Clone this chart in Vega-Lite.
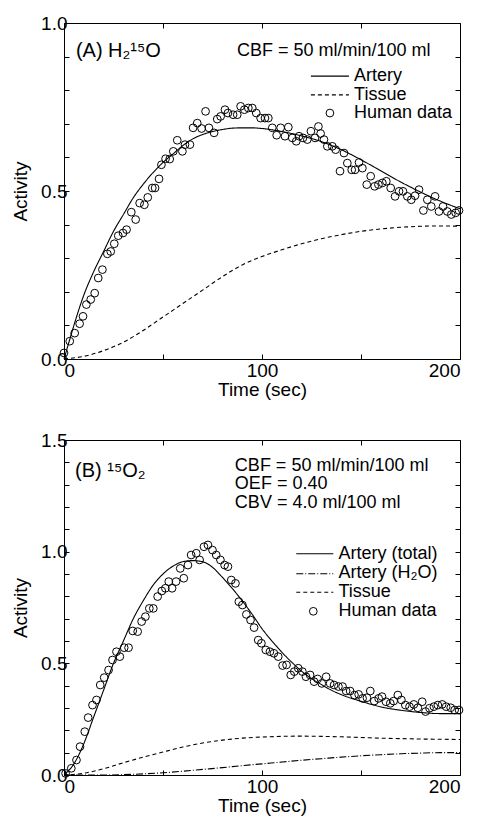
{
  "$schema": "https://vega.github.io/schema/vega-lite/v6.json",
  "background": "white",
  "padding": {"left": 11, "top": 13, "right": 5, "bottom": 0},
  "spacing": 30,
  "config": {
    "font": "Liberation Sans",
    "view": {"stroke": "black", "strokeWidth": 1},
    "axis": {
      "grid": false, "domain": false,
      "tickColor": "black", "tickSize": -5, "tickWidth": 1,
      "labelColor": "black", "titleColor": "black",
      "labelFont": "Liberation Sans", "titleFont": "Liberation Sans",
      "labelFontSize": 19, "titleFontSize": 19, "titleFontWeight": "normal"
    },
    "axisBottom": {"labelPadding": 7, "titlePadding": 0},
    "axisLeft": {"labelPadding": 2, "titlePadding": 10}
  },
  "datasets": {
    "a_model": [
      {"t":0,"v":0,"series":"Artery"},{"t":2,"v":0.04,"series":"Artery"},{"t":5,"v":0.1,"series":"Artery"},{"t":10,"v":0.19,"series":"Artery"},{"t":15,"v":0.26,"series":"Artery"},{"t":20,"v":0.32,"series":"Artery"},{"t":25,"v":0.38,"series":"Artery"},{"t":30,"v":0.43,"series":"Artery"},{"t":35,"v":0.48,"series":"Artery"},{"t":40,"v":0.52,"series":"Artery"},{"t":45,"v":0.555,"series":"Artery"},{"t":50,"v":0.585,"series":"Artery"},{"t":55,"v":0.61,"series":"Artery"},{"t":60,"v":0.635,"series":"Artery"},{"t":65,"v":0.655,"series":"Artery"},{"t":70,"v":0.668,"series":"Artery"},{"t":75,"v":0.677,"series":"Artery"},{"t":80,"v":0.683,"series":"Artery"},{"t":85,"v":0.687,"series":"Artery"},{"t":90,"v":0.688,"series":"Artery"},{"t":95,"v":0.688,"series":"Artery"},{"t":100,"v":0.686,"series":"Artery"},{"t":110,"v":0.677,"series":"Artery"},{"t":120,"v":0.664,"series":"Artery"},{"t":130,"v":0.647,"series":"Artery"},{"t":140,"v":0.623,"series":"Artery"},{"t":150,"v":0.593,"series":"Artery"},{"t":160,"v":0.56,"series":"Artery"},{"t":170,"v":0.527,"series":"Artery"},{"t":180,"v":0.497,"series":"Artery"},{"t":190,"v":0.47,"series":"Artery"},{"t":200,"v":0.447,"series":"Artery"},
      {"t":0,"v":0,"series":"Tissue"},{"t":10,"v":0.008,"series":"Tissue"},{"t":20,"v":0.025,"series":"Tissue"},{"t":30,"v":0.05,"series":"Tissue"},{"t":40,"v":0.085,"series":"Tissue"},{"t":50,"v":0.125,"series":"Tissue"},{"t":60,"v":0.165,"series":"Tissue"},{"t":70,"v":0.205,"series":"Tissue"},{"t":80,"v":0.245,"series":"Tissue"},{"t":90,"v":0.28,"series":"Tissue"},{"t":100,"v":0.305,"series":"Tissue"},{"t":110,"v":0.325,"series":"Tissue"},{"t":120,"v":0.343,"series":"Tissue"},{"t":130,"v":0.358,"series":"Tissue"},{"t":140,"v":0.37,"series":"Tissue"},{"t":150,"v":0.38,"series":"Tissue"},{"t":160,"v":0.387,"series":"Tissue"},{"t":170,"v":0.392,"series":"Tissue"},{"t":180,"v":0.395,"series":"Tissue"},{"t":190,"v":0.396,"series":"Tissue"},{"t":200,"v":0.395,"series":"Tissue"}
    ],
    "a_obs": [
      {"t":0,"v":0.018},{"t":2.9,"v":0.053},{"t":5.4,"v":0.077},{"t":7.9,"v":0.105},{"t":9.6,"v":0.127},{"t":11.3,"v":0.162},{"t":13.5,"v":0.177},{"t":15.5,"v":0.196},{"t":17.3,"v":0.241},{"t":19.4,"v":0.266},{"t":21.9,"v":0.313},{"t":23.6,"v":0.32},{"t":25.4,"v":0.343},{"t":27.4,"v":0.367},{"t":29.8,"v":0.375},{"t":31.6,"v":0.385},{"t":34,"v":0.437},{"t":36.2,"v":0.415},{"t":38.2,"v":0.464},{"t":40.6,"v":0.459},{"t":42.3,"v":0.481},{"t":44.6,"v":0.509},{"t":46,"v":0.509},{"t":48,"v":0.536},{"t":49.2,"v":0.578},{"t":51.3,"v":0.596},{"t":53.4,"v":0.595},{"t":55.2,"v":0.618},{"t":57.2,"v":0.651},{"t":59.8,"v":0.618},{"t":61.1,"v":0.638},{"t":63.6,"v":0.638},{"t":65.2,"v":0.688},{"t":67.3,"v":0.702},{"t":69.5,"v":0.686},{"t":71.5,"v":0.737},{"t":73.2,"v":0.688},{"t":75.8,"v":0.673},{"t":77.4,"v":0.714},{"t":79.1,"v":0.722},{"t":81.3,"v":0.742},{"t":82.8,"v":0.732},{"t":85.4,"v":0.727},{"t":87.5,"v":0.727},{"t":89.2,"v":0.752},{"t":91.1,"v":0.742},{"t":93.1,"v":0.747},{"t":95.1,"v":0.747},{"t":97.1,"v":0.732},{"t":99.3,"v":0.717},{"t":101.5,"v":0.717},{"t":103.2,"v":0.717},{"t":105.2,"v":0.688},{"t":107.4,"v":0.666},{"t":109.4,"v":0.688},{"t":111.6,"v":0.663},{"t":113.3,"v":0.69},{"t":115.3,"v":0.658},{"t":117.3,"v":0.648},{"t":118.7,"v":0.663},{"t":120.7,"v":0.658},{"t":122.9,"v":0.653},{"t":124.7,"v":0.678},{"t":126.8,"v":0.658},{"t":128.5,"v":0.692},{"t":129.6,"v":0.671},{"t":131.3,"v":0.653},{"t":133,"v":0.633},{"t":135.5,"v":0.633},{"t":137.2,"v":0.623},{"t":139.4,"v":0.559},{"t":141.4,"v":0.613},{"t":143.1,"v":0.583},{"t":145.3,"v":0.563},{"t":147,"v":0.563},{"t":149,"v":0.585},{"t":150.7,"v":0.568},{"t":152.9,"v":0.519},{"t":154.9,"v":0.544},{"t":156.9,"v":0.514},{"t":158.8,"v":0.519},{"t":160.8,"v":0.524},{"t":162.8,"v":0.529},{"t":165,"v":0.509},{"t":167.2,"v":0.484},{"t":169.2,"v":0.499},{"t":171.2,"v":0.499},{"t":173.4,"v":0.484},{"t":175.4,"v":0.474},{"t":177.3,"v":0.486},{"t":179.3,"v":0.504},{"t":181.5,"v":0.442},{"t":183.5,"v":0.474},{"t":185.5,"v":0.454},{"t":187.4,"v":0.484},{"t":189.4,"v":0.439},{"t":191.4,"v":0.454},{"t":193.6,"v":0.439},{"t":195.6,"v":0.43},{"t":197.8,"v":0.435},{"t":199.5,"v":0.442}
    ],
    "b_model": [
      {"t":0,"v":0,"series":"Artery (total)"},{"t":5,"v":0.05,"series":"Artery (total)"},{"t":10,"v":0.14,"series":"Artery (total)"},{"t":15,"v":0.26,"series":"Artery (total)"},{"t":20,"v":0.38,"series":"Artery (total)"},{"t":25,"v":0.5,"series":"Artery (total)"},{"t":30,"v":0.6,"series":"Artery (total)"},{"t":35,"v":0.7,"series":"Artery (total)"},{"t":40,"v":0.78,"series":"Artery (total)"},{"t":45,"v":0.85,"series":"Artery (total)"},{"t":50,"v":0.9,"series":"Artery (total)"},{"t":55,"v":0.935,"series":"Artery (total)"},{"t":60,"v":0.955,"series":"Artery (total)"},{"t":65,"v":0.96,"series":"Artery (total)"},{"t":70,"v":0.955,"series":"Artery (total)"},{"t":75,"v":0.93,"series":"Artery (total)"},{"t":80,"v":0.885,"series":"Artery (total)"},{"t":85,"v":0.835,"series":"Artery (total)"},{"t":90,"v":0.78,"series":"Artery (total)"},{"t":95,"v":0.72,"series":"Artery (total)"},{"t":100,"v":0.655,"series":"Artery (total)"},{"t":105,"v":0.6,"series":"Artery (total)"},{"t":110,"v":0.55,"series":"Artery (total)"},{"t":115,"v":0.505,"series":"Artery (total)"},{"t":120,"v":0.465,"series":"Artery (total)"},{"t":125,"v":0.432,"series":"Artery (total)"},{"t":130,"v":0.405,"series":"Artery (total)"},{"t":135,"v":0.38,"series":"Artery (total)"},{"t":140,"v":0.36,"series":"Artery (total)"},{"t":150,"v":0.33,"series":"Artery (total)"},{"t":160,"v":0.305,"series":"Artery (total)"},{"t":170,"v":0.29,"series":"Artery (total)"},{"t":180,"v":0.28,"series":"Artery (total)"},{"t":190,"v":0.275,"series":"Artery (total)"},{"t":200,"v":0.275,"series":"Artery (total)"},
      {"t":0,"v":0,"series":"Artery (H₂O)"},{"t":20,"v":0.0,"series":"Artery (H₂O)"},{"t":40,"v":0.005,"series":"Artery (H₂O)"},{"t":50,"v":0.01,"series":"Artery (H₂O)"},{"t":60,"v":0.017,"series":"Artery (H₂O)"},{"t":70,"v":0.025,"series":"Artery (H₂O)"},{"t":80,"v":0.033,"series":"Artery (H₂O)"},{"t":90,"v":0.042,"series":"Artery (H₂O)"},{"t":100,"v":0.05,"series":"Artery (H₂O)"},{"t":110,"v":0.058,"series":"Artery (H₂O)"},{"t":120,"v":0.066,"series":"Artery (H₂O)"},{"t":130,"v":0.073,"series":"Artery (H₂O)"},{"t":140,"v":0.08,"series":"Artery (H₂O)"},{"t":150,"v":0.086,"series":"Artery (H₂O)"},{"t":160,"v":0.091,"series":"Artery (H₂O)"},{"t":170,"v":0.095,"series":"Artery (H₂O)"},{"t":180,"v":0.098,"series":"Artery (H₂O)"},{"t":190,"v":0.1,"series":"Artery (H₂O)"},{"t":200,"v":0.1,"series":"Artery (H₂O)"},
      {"t":0,"v":0,"series":"Tissue"},{"t":10,"v":0.008,"series":"Tissue"},{"t":20,"v":0.028,"series":"Tissue"},{"t":30,"v":0.055,"series":"Tissue"},{"t":40,"v":0.08,"series":"Tissue"},{"t":50,"v":0.103,"series":"Tissue"},{"t":60,"v":0.125,"series":"Tissue"},{"t":70,"v":0.143,"series":"Tissue"},{"t":80,"v":0.156,"series":"Tissue"},{"t":90,"v":0.165,"series":"Tissue"},{"t":100,"v":0.17,"series":"Tissue"},{"t":110,"v":0.173,"series":"Tissue"},{"t":120,"v":0.174,"series":"Tissue"},{"t":130,"v":0.173,"series":"Tissue"},{"t":140,"v":0.171,"series":"Tissue"},{"t":150,"v":0.168,"series":"Tissue"},{"t":160,"v":0.165,"series":"Tissue"},{"t":170,"v":0.163,"series":"Tissue"},{"t":180,"v":0.161,"series":"Tissue"},{"t":190,"v":0.16,"series":"Tissue"},{"t":200,"v":0.159,"series":"Tissue"}
    ],
    "b_obs": [
      {"t":0.8,"v":0.007},{"t":3.7,"v":0.03},{"t":6.3,"v":0.067},{"t":8.1,"v":0.127},{"t":10.5,"v":0.194},{"t":12.2,"v":0.257},{"t":14.4,"v":0.313},{"t":16.4,"v":0.336},{"t":18.3,"v":0.403},{"t":20.3,"v":0.436},{"t":22.5,"v":0.47},{"t":24.5,"v":0.515},{"t":26.5,"v":0.552},{"t":28.2,"v":0.53},{"t":30.4,"v":0.57},{"t":32.6,"v":0.57},{"t":34.7,"v":0.645},{"t":37.2,"v":0.642},{"t":39.2,"v":0.687},{"t":41.1,"v":0.709},{"t":43.1,"v":0.746},{"t":45.1,"v":0.746},{"t":47.3,"v":0.799},{"t":49.4,"v":0.824},{"t":51.2,"v":0.836},{"t":52.9,"v":0.866},{"t":54.6,"v":0.836},{"t":56.6,"v":0.866},{"t":58.7,"v":0.925},{"t":60.5,"v":0.881},{"t":62.6,"v":0.94},{"t":64.2,"v":0.985},{"t":66.8,"v":0.993},{"t":68.5,"v":0.963},{"t":70.7,"v":1.022},{"t":72.7,"v":1.03},{"t":75,"v":1.007},{"t":76.9,"v":0.985},{"t":79,"v":0.963},{"t":81.1,"v":0.94},{"t":82.8,"v":0.933},{"t":84.5,"v":0.873},{"t":86.6,"v":0.858},{"t":88.3,"v":0.776},{"t":90.1,"v":0.761},{"t":92.1,"v":0.719},{"t":94.2,"v":0.694},{"t":96,"v":0.66},{"t":98.1,"v":0.604},{"t":99.7,"v":0.59},{"t":101.9,"v":0.56},{"t":104,"v":0.552},{"t":106,"v":0.545},{"t":108.2,"v":0.53},{"t":110.4,"v":0.49},{"t":112.4,"v":0.493},{"t":114.5,"v":0.448},{"t":116.3,"v":0.463},{"t":118.3,"v":0.478},{"t":120.4,"v":0.463},{"t":122.2,"v":0.44},{"t":124.3,"v":0.448},{"t":126.3,"v":0.418},{"t":128.1,"v":0.43},{"t":130.2,"v":0.41},{"t":132.4,"v":0.44},{"t":134.4,"v":0.41},{"t":136.4,"v":0.403},{"t":138.6,"v":0.396},{"t":140.7,"v":0.396},{"t":142.5,"v":0.376},{"t":144.5,"v":0.376},{"t":146.7,"v":0.358},{"t":148.8,"v":0.361},{"t":150.8,"v":0.343},{"t":153,"v":0.346},{"t":154.7,"v":0.376},{"t":156.7,"v":0.331},{"t":158.9,"v":0.343},{"t":160.6,"v":0.351},{"t":162.6,"v":0.328},{"t":164.8,"v":0.321},{"t":166.5,"v":0.331},{"t":168.6,"v":0.358},{"t":170.4,"v":0.336},{"t":172.4,"v":0.313},{"t":174.5,"v":0.306},{"t":176.7,"v":0.316},{"t":178.7,"v":0.301},{"t":180.9,"v":0.328},{"t":182.6,"v":0.284},{"t":184.6,"v":0.299},{"t":186.8,"v":0.306},{"t":188.8,"v":0.313},{"t":191,"v":0.316},{"t":193,"v":0.306},{"t":195.3,"v":0.301},{"t":197.3,"v":0.291},{"t":199.5,"v":0.291}
    ]
  },
  "resolve": {"scale": {"strokeDash": "independent"}},
  "vconcat": [
    {
      "width": 396, "height": 336,
      "resolve": {"axis": {"x": "independent", "y": "independent"}},
      "layer": [
        {
          "data": {"name": "a_model"},
          "mark": {"type": "line", "color": "black", "strokeWidth": 1.1, "interpolate": "monotone"},
          "encoding": {
            "x": {"field": "t", "type": "quantitative", "scale": {"domain": [0, 200], "nice": false},
                  "axis": {"orient": "bottom", "values": [0, 50, 100, 150, 200], "labelExpr": "datum.value % 100 === 0 ? datum.label : ''", "title": "Time (sec)"}},
            "y": {"field": "v", "type": "quantitative", "scale": {"domain": [0, 1], "nice": false},
                  "axis": {"orient": "left", "values": [0, 0.1, 0.2, 0.3, 0.4, 0.5, 0.6, 0.7, 0.8, 0.9, 1.0], "labelExpr": "abs(datum.value * 2 - round(datum.value * 2)) < 0.001 ? format(datum.value, '.1f') : ''", "title": "Activity"}},
            "strokeDash": {"field": "series", "type": "nominal",
                  "scale": {"domain": ["Artery", "Tissue"], "range": [[1, 0], [4, 3]]}, "legend": null}
          }
        },
        {
          "data": {"name": "a_obs"},
          "mark": {"type": "point", "shape": "circle", "filled": false, "color": "black", "size": 60, "strokeWidth": 1, "opacity": 1},
          "encoding": {
            "x": {"field": "t", "type": "quantitative", "axis": {"orient": "top", "values": [0, 50, 100, 150, 200], "labels": false, "title": null}},
            "y": {"field": "v", "type": "quantitative", "axis": {"orient": "right", "values": [0, 0.1, 0.2, 0.3, 0.4, 0.5, 0.6, 0.7, 0.8, 0.9, 1.0], "labels": false, "title": null}}
          }
        },
        {
          "data": {"values": [{}]},
          "mark": {"type": "rule", "color": "black", "strokeWidth": 1.1},
          "encoding": {"x": {"datum": 124.7, "type": "quantitative", "axis": null}, "x2": {"datum": 143.9}, "y": {"datum": 0.842, "type": "quantitative", "axis": null}}
        },
        {
          "data": {"values": [{}]},
          "mark": {"type": "rule", "color": "black", "strokeWidth": 1.1, "strokeDash": [4, 3]},
          "encoding": {"x": {"datum": 124.7, "type": "quantitative", "axis": null}, "x2": {"datum": 143.9}, "y": {"datum": 0.786, "type": "quantitative", "axis": null}}
        },
        {
          "data": {"values": [{}]},
          "mark": {"type": "point", "shape": "circle", "filled": false, "color": "black", "size": 60, "strokeWidth": 1, "opacity": 1},
          "encoding": {"x": {"datum": 134.3, "type": "quantitative", "axis": null}, "y": {"datum": 0.732, "type": "quantitative", "axis": null}}
        },
        {
          "data": {"values": [{}]},
          "mark": {"type": "text", "text": ["Artery", "Tissue", "Human data"], "lineHeight": 18.5, "align": "left", "baseline": "middle", "fontSize": 18, "font": "Liberation Sans", "color": "black"},
          "encoding": {"x": {"datum": 146.5, "type": "quantitative", "axis": null}, "y": {"datum": 0.842, "type": "quantitative", "axis": null}}
        },
        {
          "data": {"values": [{}]},
          "mark": {"type": "text", "text": "(A)  H₂¹⁵O", "align": "left", "baseline": "middle", "fontSize": 20, "font": "Liberation Sans", "color": "black"},
          "encoding": {"x": {"datum": 6, "type": "quantitative", "axis": null}, "y": {"datum": 0.917, "type": "quantitative", "axis": null}}
        },
        {
          "data": {"values": [{}]},
          "mark": {"type": "text", "text": "CBF = 50 ml/min/100 ml", "align": "left", "baseline": "middle", "fontSize": 18, "font": "Liberation Sans", "color": "black"},
          "encoding": {"x": {"datum": 87.4, "type": "quantitative", "axis": null}, "y": {"datum": 0.917, "type": "quantitative", "axis": null}}
        }
      ]
    },
    {
      "width": 396, "height": 335,
      "resolve": {"axis": {"x": "independent", "y": "independent"}},
      "layer": [
        {
          "data": {"name": "b_model"},
          "mark": {"type": "line", "color": "black", "strokeWidth": 1.1, "interpolate": "monotone"},
          "encoding": {
            "x": {"field": "t", "type": "quantitative", "scale": {"domain": [0, 200], "nice": false},
                  "axis": {"orient": "bottom", "values": [0, 50, 100, 150, 200], "labelExpr": "datum.value % 100 === 0 ? datum.label : ''", "title": "Time (sec)"}},
            "y": {"field": "v", "type": "quantitative", "scale": {"domain": [0, 1.5], "nice": false},
                  "axis": {"orient": "left", "values": [0, 0.1, 0.2, 0.3, 0.4, 0.5, 0.6, 0.7, 0.8, 0.9, 1.0, 1.1, 1.2, 1.3, 1.4, 1.5], "labelExpr": "abs(datum.value * 2 - round(datum.value * 2)) < 0.001 ? format(datum.value, '.1f') : ''", "title": "Activity"}},
            "strokeDash": {"field": "series", "type": "nominal",
                  "scale": {"domain": ["Artery (total)", "Artery (H₂O)", "Tissue"], "range": [[1, 0], [7, 2, 1, 2], [4, 3]]}, "legend": null}
          }
        },
        {
          "data": {"name": "b_obs"},
          "mark": {"type": "point", "shape": "circle", "filled": false, "color": "black", "size": 60, "strokeWidth": 1, "opacity": 1},
          "encoding": {
            "x": {"field": "t", "type": "quantitative", "axis": {"orient": "top", "values": [0, 50, 100, 150, 200], "labels": false, "title": null}},
            "y": {"field": "v", "type": "quantitative", "axis": {"orient": "right", "values": [0, 0.1, 0.2, 0.3, 0.4, 0.5, 0.6, 0.7, 0.8, 0.9, 1.0, 1.1, 1.2, 1.3, 1.4, 1.5], "labels": false, "title": null}}
          }
        },
        {
          "data": {"values": [{}]},
          "mark": {"type": "rule", "color": "black", "strokeWidth": 1.1},
          "encoding": {"x": {"datum": 117.3, "type": "quantitative", "axis": null}, "x2": {"datum": 136}, "y": {"datum": 0.991, "type": "quantitative", "axis": null}}
        },
        {
          "data": {"values": [{}]},
          "mark": {"type": "rule", "color": "black", "strokeWidth": 1.1, "strokeDash": [7, 2, 1, 2]},
          "encoding": {"x": {"datum": 117.3, "type": "quantitative", "axis": null}, "x2": {"datum": 136}, "y": {"datum": 0.901, "type": "quantitative", "axis": null}}
        },
        {
          "data": {"values": [{}]},
          "mark": {"type": "rule", "color": "black", "strokeWidth": 1.1, "strokeDash": [4, 3]},
          "encoding": {"x": {"datum": 117.3, "type": "quantitative", "axis": null}, "x2": {"datum": 136}, "y": {"datum": 0.818, "type": "quantitative", "axis": null}}
        },
        {
          "data": {"values": [{}]},
          "mark": {"type": "point", "shape": "circle", "filled": false, "color": "black", "size": 60, "strokeWidth": 1, "opacity": 1},
          "encoding": {"x": {"datum": 125.9, "type": "quantitative", "axis": null}, "y": {"datum": 0.733, "type": "quantitative", "axis": null}}
        },
        {
          "data": {"values": [{}]},
          "mark": {"type": "text", "text": ["Artery (total)", "Artery (H₂O)", "Tissue", "Human data"], "lineHeight": 19.2, "align": "left", "baseline": "middle", "fontSize": 18, "font": "Liberation Sans", "color": "black"},
          "encoding": {"x": {"datum": 138.6, "type": "quantitative", "axis": null}, "y": {"datum": 0.991, "type": "quantitative", "axis": null}}
        },
        {
          "data": {"values": [{}]},
          "mark": {"type": "text", "text": "(B)  ¹⁵O₂", "align": "left", "baseline": "middle", "fontSize": 20, "font": "Liberation Sans", "color": "black"},
          "encoding": {"x": {"datum": 5.6, "type": "quantitative", "axis": null}, "y": {"datum": 1.361, "type": "quantitative", "axis": null}}
        },
        {
          "data": {"values": [{}]},
          "mark": {"type": "text", "text": ["CBF = 50 ml/min/100 ml", "OEF = 0.40", "CBV = 4.0 ml/100 ml"], "lineHeight": 18.5, "align": "left", "baseline": "middle", "fontSize": 18, "font": "Liberation Sans", "color": "black"},
          "encoding": {"x": {"datum": 86.3, "type": "quantitative", "axis": null}, "y": {"datum": 1.384, "type": "quantitative", "axis": null}}
        }
      ]
    }
  ]
}
